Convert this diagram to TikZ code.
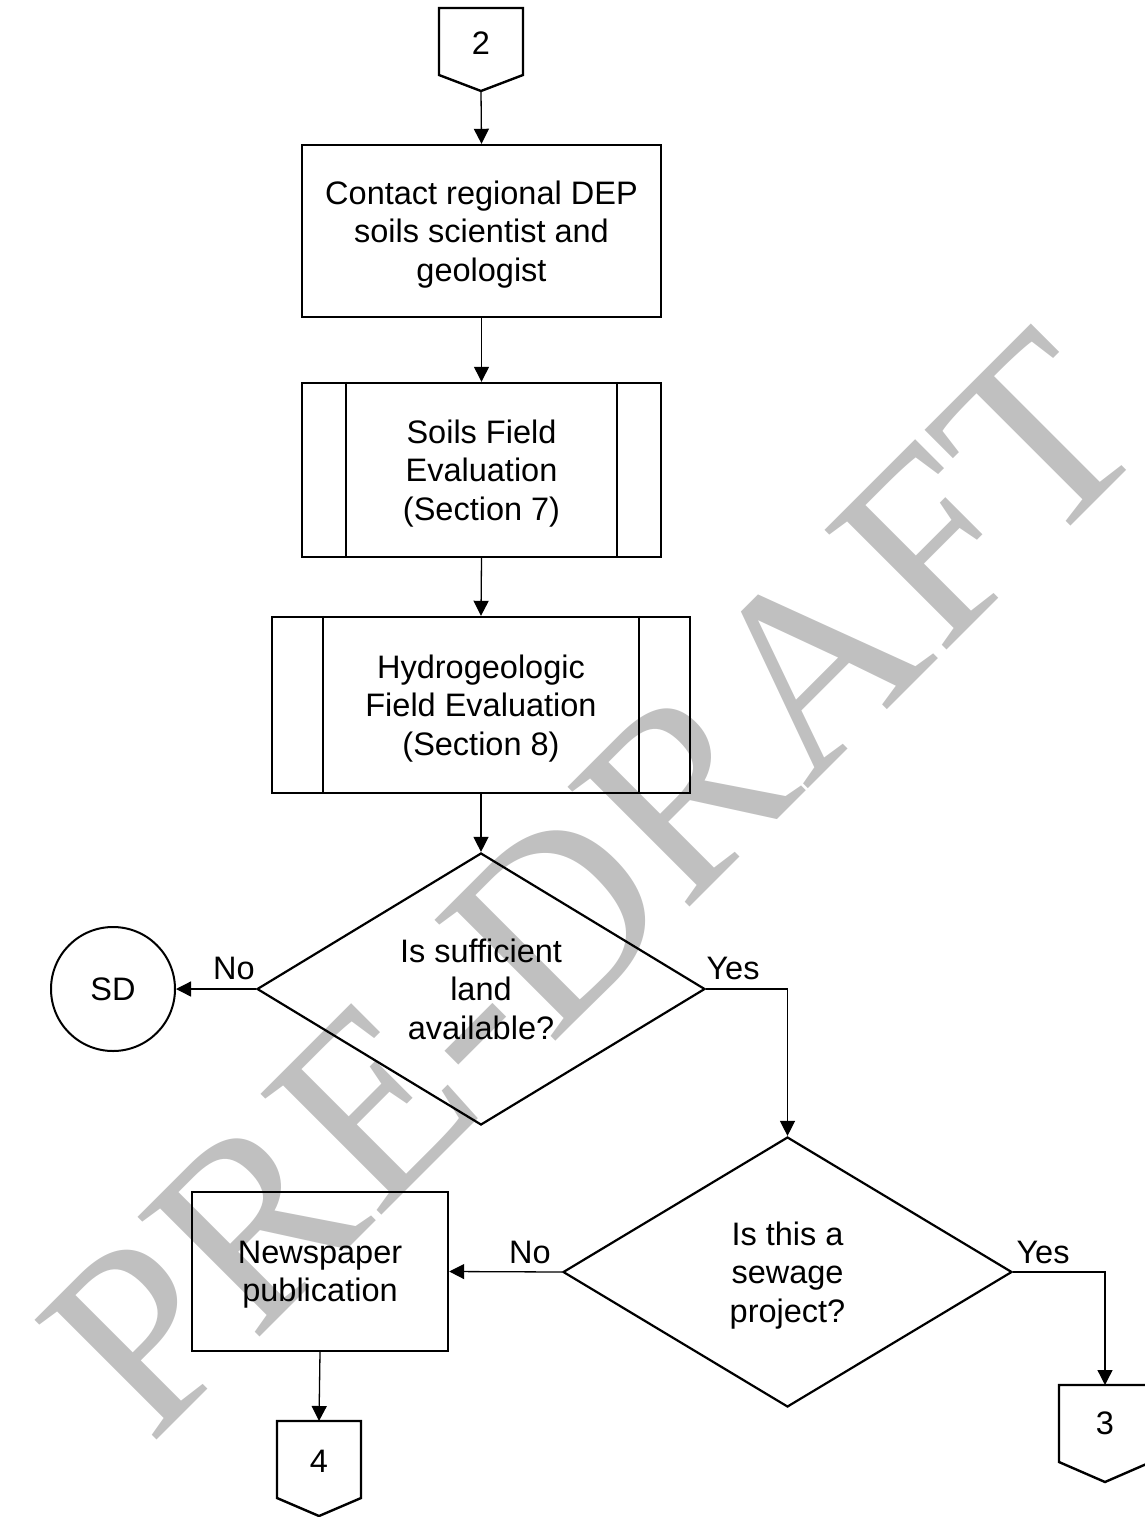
\documentclass[tikz,border=0pt]{standalone}
\usepackage{fontspec}
\setmainfont{Liberation Sans}
\newfontfamily\wmfont{Liberation Serif}
\usetikzlibrary{shapes.geometric,arrows.meta}
\definecolor{wmgray}{HTML}{C0C0C0}
\begin{document}
\begin{tikzpicture}[x=1pt,y=-1pt,
  every node/.style={font=\fontsize{32.5}{38.5}\selectfont, align=center, inner sep=0pt},
  boxnode/.style={draw, line width=2.4pt, rectangle, text depth=0pt},
  decnode/.style={draw, line width=2.2pt, diamond, text depth=0pt},
  termnode/.style={draw, line width=2pt, circle},
  shp/.style={line width=2.4pt, line join=miter},
  arr/.style={line width=1.3pt, -{Triangle[width=15pt,length=15pt]}},
  lbl/.style={anchor=base}]
\useasboundingbox (0,0) rectangle (1144,1517);
% watermark
\node[anchor=base, rotate=45, text=wmgray, font=\wmfont\fontsize{261}{261}\selectfont] (wmark) at (653,944) {PRE-DRAFT};
% off-page connector 2
\node (c2) at (481,43) {2};
\draw[shp] ([shift={(-42,-35)}]c2.center) -- ([shift={(42,-35)}]c2.center) -- ([shift={(42,32)}]c2.center) -- ([shift={(0,48)}]c2.center) -- ([shift={(-42,32)}]c2.center) -- cycle;
\coordinate (c2tip) at ([shift={(0,48)}]c2.center);
% boxes
\node[boxnode, minimum width=359, minimum height=172] (b1) at (481.5,231) {Contact regional DEP\\soils scientist and\\geologist};
\node[boxnode, minimum width=359, minimum height=174] (b2) at (481.5,470) {Soils Field\\Evaluation\\(Section 7)};
\draw[shp] ([xshift=45pt]b2.north west) -- ([xshift=45pt]b2.south west);
\draw[shp] ([xshift=-45pt]b2.north east) -- ([xshift=-45pt]b2.south east);
\node[boxnode, minimum width=418, minimum height=176] (b3) at (481,705) {Hydrogeologic\\Field Evaluation\\(Section 8)};
\draw[shp] ([xshift=52pt]b3.north west) -- ([xshift=52pt]b3.south west);
\draw[shp] ([xshift=-52pt]b3.north east) -- ([xshift=-52pt]b3.south east);
% decisions
\node[decnode, minimum width=448, minimum height=272] (d1) at (481,989) {Is sufficient\\land\\available?};
\node[termnode, minimum size=124] (sd) at (113,989) {SD};
\node[decnode, minimum width=449, minimum height=270] (d2) at (787.5,1272) {Is this a\\sewage\\project?};
\node[boxnode, minimum width=256, minimum height=159] (nw) at (320,1271.5) {Newspaper\\publication};
% off-page connector 4
\node (c4) at (319,1461) {4};
\draw[shp] ([shift={(-42,-40)}]c4.center) -- ([shift={(42,-40)}]c4.center) -- ([shift={(42,37)}]c4.center) -- ([shift={(0,55)}]c4.center) -- ([shift={(-42,37)}]c4.center) -- cycle;
\coordinate (c4top) at ([shift={(0,-40)}]c4.center);
% off-page connector 3
\node (c3) at (1105,1423) {3};
\draw[shp] ([shift={(-46,-38)}]c3.center) -- ([shift={(46,-38)}]c3.center) -- ([shift={(46,39)}]c3.center) -- ([shift={(0,59)}]c3.center) -- ([shift={(-46,39)}]c3.center) -- cycle;
\coordinate (c3top) at ([shift={(0,-38)}]c3.center);
% connectors
\draw[arr] (c2tip) -- (b1.north);
\draw[arr] (b1.south) -- (b2.north);
\draw[arr] (b2.south) -- (b3.north);
\draw[arr] (b3.south) -- (d1.north);
\draw[arr] (d1.west) -- (sd.east);
\draw[arr] (d1.east) -| (d2.north);
\draw[arr] (d2.west) -- (nw.east);
\draw[arr] (d2.east) -| (c3top);
\draw[arr] (nw.south) -- (c4top);
% labels
\node[lbl] (no1) at (234,979.5) {No};
\node[lbl] (yes1) at (733,979.5) {Yes};
\node[lbl] (no2) at (530,1263.5) {No};
\node[lbl] (yes2) at (1043,1263.5) {Yes};
\end{tikzpicture}
\end{document}
